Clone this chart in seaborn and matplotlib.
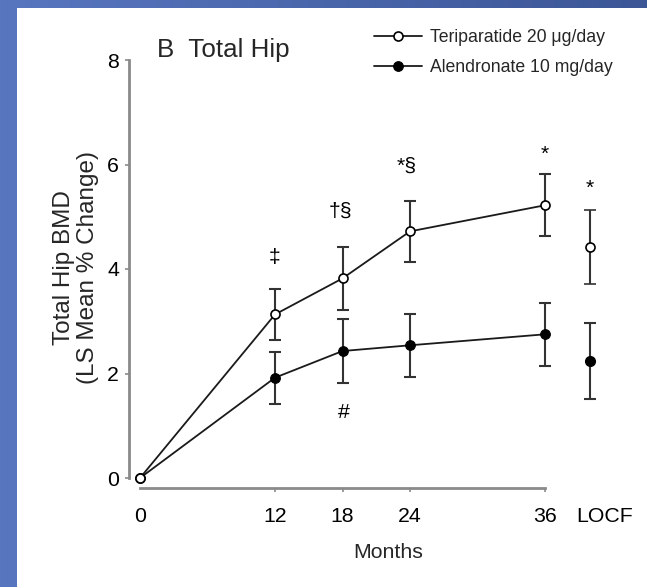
import numpy as np
import pandas as pd
import matplotlib
matplotlib.use("Agg")
import matplotlib.pyplot as plt
import seaborn as sns
from matplotlib import font_manager as fm
from matplotlib.patches import Rectangle

# ---------------- data ----------------
months = [0, 12, 18, 24, 36]
teri_mean = [0.0, 3.13, 3.82, 4.72, 5.22]
teri_err = [0.0, 0.49, 0.60, 0.58, 0.59]
alen_mean = [0.0, 1.92, 2.43, 2.54, 2.75]
alen_err = [0.0, 0.50, 0.62, 0.60, 0.60]
locf_x = 40
teri_locf = 4.42
teri_locf_err = 0.70
alen_locf = 2.24
alen_locf_err = 0.72
series_names = ["Teriparatide 20 μg/day", "Alendronate 10 mg/day"]
xtick_vals = [0, 12, 18, 24, 36, 41.3]
xtick_labels = ["0", "12", "18", "24", "36", "LOCF"]
ytick_vals = [0, 2, 4, 6, 8]
annot_x = [12, 17.8, 23.7, 36, 40, 18.1]
annot_y = [4.22, 5.10, 5.96, 6.20, 5.55, 1.25]
annot_txt = ["‡", "†§", "*§", "*", "*", "#"]

# ---------------- fonts ----------------
def have(name):
    try:
        fm.findfont(fm.FontProperties(family=name), fallback_to_default=False)
        return True
    except Exception:
        return False

narrow = "Liberation Sans Narrow" if have("Liberation Sans Narrow") else "Liberation Sans"
scale = 1.0 if narrow == "Liberation Sans Narrow" else 0.85
sns.set_style("ticks")
plt.rcParams["font.family"] = [narrow, "DejaVu Sans"]
NARROW = [narrow, "DejaVu Sans"]
REG = ["Liberation Sans", "DejaVu Sans"]

W, H = 647, 587
fig = plt.figure(figsize=(W / 100, H / 100), dpi=100)
fig.patch.set_facecolor("white")

# background: blue frame with gradient
bg = fig.add_axes([0, 0, 1, 1], zorder=-10)
bg.axis("off")
gx = np.linspace(0, 1, 256)
c0 = np.array([88, 118, 192]) / 255
c1 = np.array([60, 86, 150]) / 255
grad = (c0[None, :] * (1 - gx[:, None]) + c1[None, :] * gx[:, None])[None, :, :]
bg.imshow(grad, extent=[0, 1, 0, 1], aspect="auto")
bg.add_patch(Rectangle((17 / W, 0), 1 - 17 / W, 1 - 8 / H, facecolor="white",
                       edgecolor="none", transform=bg.transAxes))
bg.set_xlim(0, 1)
bg.set_ylim(0, 1)

# main axes: x 0 at px 140, 11.25 px/month; y 0 at px 478, 52.25 px/unit
x0px, xs = 140.0, 11.25
y0px, ys = 478.0, 52.25
xl, xr = -1.0, 43.0
yb, yt = -0.2, 8.3
left = (x0px + xl * xs) / W
width = (xr - xl) * xs / W
bottom = (H - (y0px - yb * ys)) / H
height = (yt - yb) * ys / H
ax = fig.add_axes([left, bottom, width, height])
ax.set_facecolor("none")

line_col = "#1a1a1a"
err_col = "#333333"

df_a = pd.DataFrame({"month": months, "value": alen_mean})
df_t = pd.DataFrame({"month": months, "value": teri_mean})

sns.lineplot(data=df_a, x="month", y="value", ax=ax, color=line_col, lw=1.3,
             marker="o", markersize=7, markerfacecolor="black",
             markeredgecolor="black", errorbar=None, label=series_names[1], zorder=4)
h_a = ax.lines[-1]
sns.lineplot(data=df_t, x="month", y="value", ax=ax, color=line_col, lw=1.3,
             marker="o", markersize=6.5, markerfacecolor="white",
             markeredgecolor="black", markeredgewidth=1.2, errorbar=None,
             label=series_names[0], zorder=5)
h_t = ax.lines[-1]

ax.errorbar(months[1:], alen_mean[1:], yerr=alen_err[1:], fmt="none",
            ecolor=err_col, elinewidth=1.5, capsize=4.5, capthick=1.5, zorder=3)
ax.errorbar(months[1:], teri_mean[1:], yerr=teri_err[1:], fmt="none",
            ecolor=err_col, elinewidth=1.5, capsize=4.5, capthick=1.5, zorder=3)
ax.errorbar([locf_x], [alen_locf], yerr=[alen_locf_err], fmt="o", color=err_col,
            mfc="black", mec="black", ms=7, elinewidth=1.5, capsize=4.5,
            capthick=1.5, zorder=4)
ax.errorbar([locf_x], [teri_locf], yerr=[teri_locf_err], fmt="o", color=err_col,
            mfc="white", mec="black", mew=1.2, ms=6.5, elinewidth=1.5,
            capsize=4.5, capthick=1.5, zorder=5)

for x, y, t in zip(annot_x, annot_y, annot_txt):
    ax.text(x, y, t, ha="center", va="center", fontsize=18 * scale, family=NARROW,
            color="black")

ax.set_xlim(xl, xr)
ax.set_ylim(yb, yt)
sns.despine(ax=ax)
ax.spines["left"].set_bounds(0, 8)
ax.spines["bottom"].set_bounds(0, 36)
for s in ("left", "bottom"):
    ax.spines[s].set_color("#8a8a8a")
    ax.spines[s].set_linewidth(2.0)

ax.set_yticks(ytick_vals)
ax.set_yticklabels([str(v) for v in ytick_vals])
ax.set_xticks(xtick_vals)
ax.set_xticklabels(xtick_labels)
ax.tick_params(axis="both", direction="out", length=3, width=1.2, color="#8a8a8a",
               labelsize=18 * scale, labelcolor="black")
ax.tick_params(axis="x", pad=10.5)
ax.tick_params(axis="y", pad=4)
ax.xaxis.get_major_ticks()[0].tick1line.set_visible(False)
ax.xaxis.get_major_ticks()[-1].tick1line.set_visible(False)
ax.set_xlabel("")
ax.set_ylabel("")

# axis titles
fig.text(388 / W, 1 - 553 / H, "Months", ha="center", va="center",
         fontsize=18 * scale, family=NARROW)
fig.text(76 / W, 1 - 268 / H, "Total Hip BMD\n(LS Mean % Change)", rotation=90,
         ha="center", va="center", fontsize=17.5, family=REG, linespacing=1.1,
         multialignment="center")
fig.text(157 / W, 1 - 57 / H, "B  Total Hip", ha="left", va="baseline",
         fontsize=22 * scale, family=NARROW)

leg = ax.legend(handles=[h_t, h_a], labels=series_names, loc="upper left",
                bbox_to_anchor=(374 / W, 1 - 29 / H), bbox_transform=fig.transFigure,
                frameon=False, handlelength=2.7, handletextpad=0.5,
                labelspacing=0.75, borderpad=0, borderaxespad=0,
                prop={"family": NARROW, "size": 15.5 * 0.82 if scale < 1 else 15.5})

fig.savefig("out.png", dpi=100)
